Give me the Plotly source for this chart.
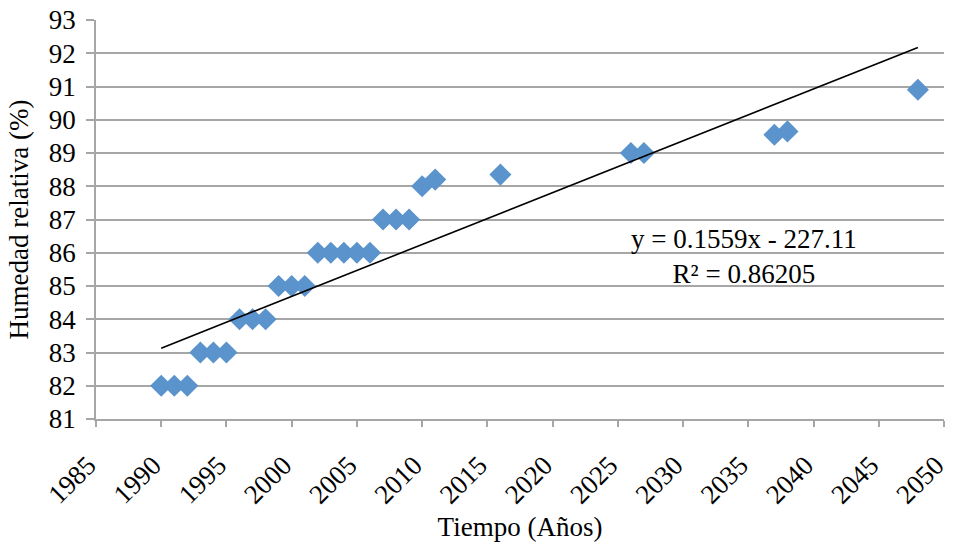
import plotly.graph_objects as go

# Observed relative humidity by year
years = [1990, 1991, 1992, 1993, 1994, 1995, 1996, 1997, 1998, 1999, 2000, 2001,
         2002, 2003, 2004, 2005, 2006, 2007, 2008, 2009, 2010, 2011, 2016,
         2026, 2027, 2037, 2038, 2048]
humidity = [82, 82, 82, 83, 83, 83, 84, 84, 84, 85, 85, 85,
            86, 86, 86, 86, 86, 87, 87, 87, 88, 88.2, 88.35,
            89, 89, 89.55, 89.65, 90.9]

# Linear trend parameters
slope = 0.1559
intercept = -227.11
r_squared = 0.86205

x_ticks = list(range(1985, 2051, 5))
y_ticks = list(range(81, 94))

FONT = "Liberation Serif"
GRID = "#a6a6a6"
MARKER = "#5b93cc"
FS = 27

trend_x = [min(years), max(years)]
trend_y = [slope * x + intercept for x in trend_x]

fig = go.Figure()
fig.add_trace(go.Scatter(
    x=years, y=humidity, mode="markers",
    marker=dict(symbol="diamond", size=17, color=MARKER,
                line=dict(width=0)),
    showlegend=False,
))
fig.add_trace(go.Scatter(
    x=trend_x, y=trend_y, mode="lines",
    line=dict(color="black", width=1.6),
    showlegend=False,
))

fig.add_annotation(
    x=2034.7, y=85.9, xref="x", yref="y",
    text=f"y = {slope}x - {abs(intercept)}<br>R² = {r_squared}",
    showarrow=False, align="center",
    font=dict(family=FONT, size=FS, color="black"),
)

fig.update_layout(
    width=953, height=546,
    margin=dict(l=96, r=9, t=20, b=127),
    paper_bgcolor="white", plot_bgcolor="white",
    font=dict(family=FONT, size=FS, color="black"),
)
fig.update_xaxes(
    range=[1985, 2050], tickvals=x_ticks, tickangle=-45,
    showgrid=False, zeroline=False, automargin=False,
    showline=True, linecolor=GRID, linewidth=1.5,
    ticks="outside", ticklen=6, tickcolor=GRID, tickwidth=1.5,
    ticklabelstandoff=12, ticklabelshift=-8, ticklabeloverflow="allow",
    tickfont=dict(family=FONT, size=FS),
    title=dict(text="Tiempo (Años)", standoff=8,
               font=dict(family=FONT, size=FS)),
)
fig.update_yaxes(
    range=[81, 93], tickvals=y_ticks,
    showgrid=True, gridcolor=GRID, gridwidth=1.5, zeroline=False,
    automargin=False,
    showline=True, linecolor=GRID, linewidth=1.5,
    ticks="outside", ticklen=8, tickcolor=GRID, tickwidth=1.5,
    ticklabelstandoff=5,
    tickfont=dict(family=FONT, size=FS),
    title=dict(text="Humedad relativa (%)", standoff=12,
               font=dict(family=FONT, size=FS)),
)

fig.write_html("out.html")
